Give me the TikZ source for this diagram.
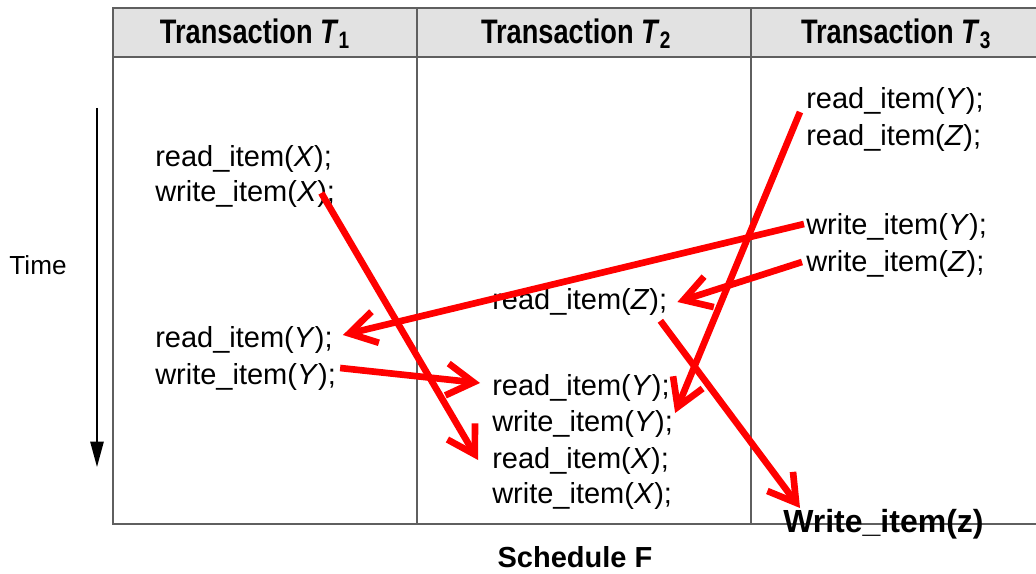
\documentclass[tikz,border=0pt]{standalone}
\usepackage{fontspec}
\setmainfont{Liberation Sans}
\usepackage{xcolor}
\usetikzlibrary{arrows.meta}

\definecolor{headgray}{RGB}{226,226,226}
\definecolor{rulegray}{RGB}{95,95,95}
\newcommand{\txn}[1]{Transaction \textit{T}\textsubscript{#1}}
\newcommand{\itm}[2]{#1\_item(\textit{#2});}

\begin{document}
\begin{tikzpicture}[x=0.75pt, y=-0.75pt,
    op/.style={anchor=west, inner sep=0pt, font=\fontsize{21.75pt}{26pt}\selectfont},
    head/.style={inner sep=0pt, font=\fontsize{25.5pt}{30pt}\selectfont\bfseries\addfontfeature{FakeStretch=0.8}},
    conflict/.style={draw=red, line width=5pt, -{Straight Barb[length=20pt,width=24pt]}}]

    \useasboundingbox (0,0) rectangle (1036,574);

    % Table
    \fill[headgray] (113,8) rectangle (1040,57);
    \draw[rulegray, line width=1.5pt] (1040,8) -- (113,8) -- (113,524) -- (1040,524);
    \draw[rulegray, line width=1.5pt] (113,57) -- (1040,57);
    \draw[rulegray, line width=1.5pt] (417,8) -- (417,524);
    \draw[rulegray, line width=1.5pt] (751,8) -- (751,524);

    \node[head] (h1) at (255,34) {\txn{1}};
    \node[head] (h2) at (576,34) {\txn{2}};
    \node[head] (h3) at (896,34) {\txn{3}};

    % Time axis
    \node[inner sep=0pt, font=\fontsize{19.6pt}{24pt}\selectfont] (time) at (38,265) {Time};
    \coordinate (timetop) at (97,108);
    \coordinate (timebot) at (97,467);
    \draw[line width=1.1pt, -{Triangle[length=19pt,width=10pt]}] (timetop) -- (timebot);

    % Transaction T1
    \node[op] (t1rx) at (155,159) {\itm{read}{X}};
    \node[op] (t1wx) at (155,194) {\itm{write}{X}};
    \node[op] (t1ry) at (155,340) {\itm{read}{Y}};
    \node[op] (t1wy) at (155,377) {\itm{write}{Y}};

    % Transaction T2
    \node[op] (t2rz) at (492,302) {\itm{read}{Z}};
    \node[op] (t2ry) at (492,388) {\itm{read}{Y}};
    \node[op] (t2wy) at (492,424) {\itm{write}{Y}};
    \node[op] (t2rx) at (492,461) {\itm{read}{X}};
    \node[op] (t2wx) at (492,496) {\itm{write}{X}};

    % Transaction T3
    \node[op] (t3ry) at (806,101) {\itm{read}{Y}};
    \node[op] (t3rz) at (806,138) {\itm{read}{Z}};
    \node[op] (t3wy) at (806,227) {\itm{write}{Y}};
    \node[op] (t3wz) at (806,264) {\itm{write}{Z}};

    \node[op, font=\fontsize{24pt}{28pt}\selectfont\bfseries] (wz) at (783,524) {Write\_item(z)};
    \node[inner sep=0pt, font=\fontsize{21.75pt}{26pt}\selectfont\bfseries] (caption) at (575,557) {Schedule F};

    % Conflicts
    \draw[conflict] ([shift={(-14,-1)}]t1wx.east) -- ([shift={(-14,-1)}]t2rx.west);
    \draw[conflict] ([shift={(-2,-3)}]t3wy.west) -- ([shift={(10,-5)}]t1ry.east);
    \draw[conflict] ([shift={(4,-9)}]t1wy.east) -- ([shift={(-12,-5)}]t2ry.west);
    \draw[conflict] ([shift={(-6,11)}]t3ry.west) -- ([shift={(2,-11)}]t2wy.east);
    \draw[conflict] ([shift={(-4,-2)}]t3wz.west) -- ([shift={(10,0)}]t2rz.east);
    \draw[conflict] ([shift={(-7,5)}]t2rz.south east) -- ([shift={(17,-16)}]wz.west);
\end{tikzpicture}
\end{document}
